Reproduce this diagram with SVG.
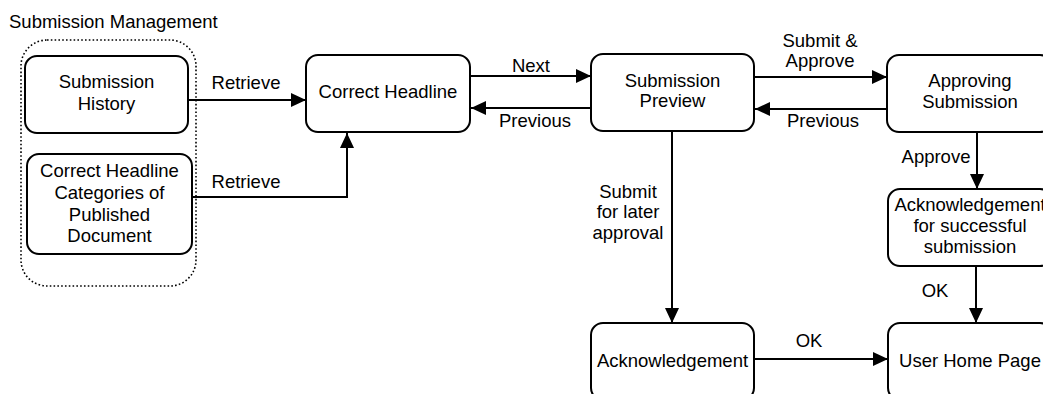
<svg xmlns="http://www.w3.org/2000/svg" width="1043" height="394" viewBox="0 0 1043 394">
<style>
text{font-family:"Liberation Sans",Arial,sans-serif;font-size:18.5px;fill:#000}
.c{text-anchor:middle}
.box{fill:#fff;stroke:#000;stroke-width:2}
.grp{fill:none;stroke:#000;stroke-width:1.6;stroke-dasharray:1.6 2.2}
.ln{fill:none;stroke:#000;stroke-width:2;marker-end:url(#ah)}
</style>
<defs>
<marker id="ah" markerUnits="userSpaceOnUse" markerWidth="16" markerHeight="14" refX="15" refY="7" orient="auto">
<path d="M0,0 L15,7 L0,14 z" fill="#000"/>
</marker>
</defs>
<rect fill="#fff" x="0" y="0" width="1043" height="394"/>
<g id="group-submission-management">
<text x="9" y="28">Submission Management</text>
<rect class="grp" x="21" y="40" width="175" height="246" rx="26"/>
</g>
<g id="connectors">
<path class="ln" d="M188,100 H306"/>
<path class="ln" d="M192,197 H347 V133"/>
<path class="ln" d="M470,76 H591"/>
<path class="ln" d="M591,108 H471"/>
<path class="ln" d="M754,77 H887"/>
<path class="ln" d="M887,109 H755"/>
<path class="ln" d="M977,132 V189"/>
<path class="ln" d="M976,266 V323"/>
<path class="ln" d="M672,131 V323"/>
<path class="ln" d="M754,359 H888"/>
<text class="c" x="246" y="89">Retrieve</text>
<text class="c" x="246" y="188">Retrieve</text>
<text class="c" x="531" y="72">Next</text>
<text class="c" x="535" y="127">Previous</text>
<text class="c" x="820" y="47">Submit &amp;</text>
<text class="c" x="820" y="67">Approve</text>
<text class="c" x="823" y="127">Previous</text>
<text class="c" x="936" y="163">Approve</text>
<text class="c" x="628" y="198">Submit</text>
<text class="c" x="628" y="218">for later</text>
<text class="c" x="628" y="239">approval</text>
<text class="c" x="935" y="297">OK</text>
<text class="c" x="809" y="347">OK</text>
</g>
<g id="submission-history">
<rect class="box" x="25" y="56" width="163" height="77" rx="12"/>
<text class="c" x="106.5" y="88">Submission</text>
<text class="c" x="106.5" y="110">History</text>
</g>
<g id="headline-categories">
<rect class="box" x="27" y="154" width="165" height="100" rx="12"/>
<text class="c" x="109.5" y="177">Correct Headline</text>
<text class="c" x="109.5" y="199">Categories of</text>
<text class="c" x="109.5" y="221">Published</text>
<text class="c" x="109.5" y="242">Document</text>
</g>
<g id="correct-headline">
<rect class="box" x="306" y="55" width="164" height="77" rx="12"/>
<text class="c" x="388" y="98">Correct Headline</text>
</g>
<g id="submission-preview">
<rect class="box" x="591" y="54" width="163" height="77" rx="12"/>
<text class="c" x="672.5" y="87">Submission</text>
<text class="c" x="672.5" y="107">Preview</text>
</g>
<g id="approving-submission">
<rect class="box" x="887" y="55" width="165" height="77" rx="12"/>
<text class="c" x="970" y="87">Approving</text>
<text class="c" x="970" y="108">Submission</text>
</g>
<g id="ack-success">
<rect class="box" x="888" y="189" width="164" height="77" rx="12"/>
<text class="c" x="970" y="211">Acknowledgement</text>
<text class="c" x="970" y="232">for successful</text>
<text class="c" x="970" y="253">submission</text>
</g>
<g id="acknowledgement">
<rect class="box" x="591" y="323" width="163" height="77" rx="12"/>
<text class="c" x="672.5" y="367">Acknowledgement</text>
</g>
<g id="user-home-page">
<rect class="box" x="888" y="323" width="164" height="77" rx="12"/>
<text class="c" x="970" y="367">User Home Page</text>
</g>
</svg>
